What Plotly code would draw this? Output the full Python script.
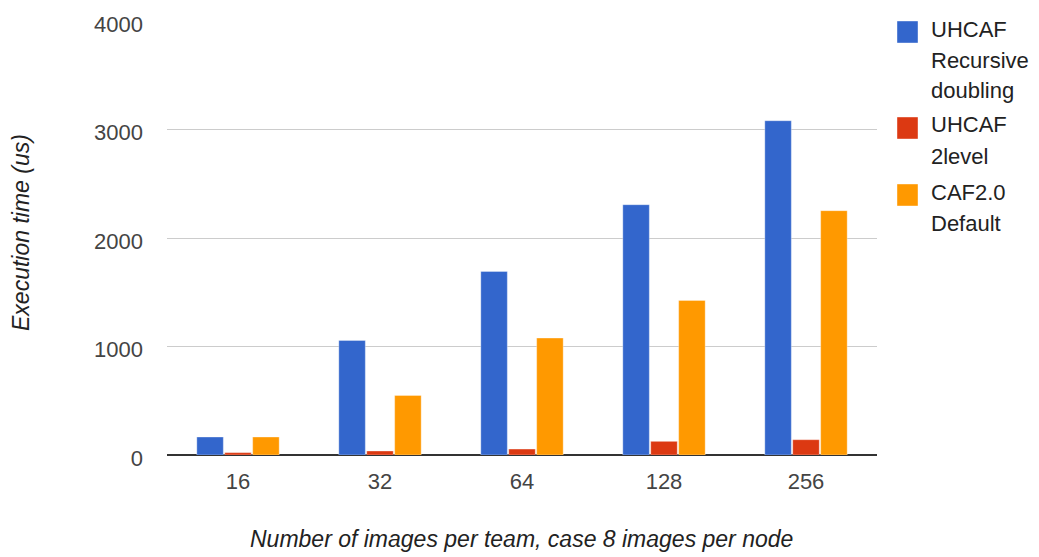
import plotly.graph_objects as go

# Team sizes (images per team) and measured execution times in microseconds
categories = ["16", "32", "64", "128", "256"]
uhcaf_recursive = [166, 1056, 1692, 2307, 3081]
uhcaf_2level = [22, 37, 55, 126, 141]
caf20_default = [166, 549, 1078, 1425, 2252]

series_names = ["UHCAF Recursive doubling", "UHCAF 2level", "CAF2.0 Default"]
legend_lines = [["UHCAF", "Recursive", "doubling"], ["UHCAF", "2level"], ["CAF2.0", "Default"]]
colors = ["#3366cc", "#dc3912", "#ff9900"]
y_ticks = [0, 1000, 2000, 3000, 4000]

W, H = 1039, 557
L, R, T, B = 167, 162, 21, 102
PW, PH = W - L - R, H - T - B

FONT = "Liberation Sans, Arial, sans-serif"


def px_x(px):
    return (px - L) / PW


def px_y(py):
    return (H - B - py) / PH


fig = go.Figure()
for name, vals, col in zip(series_names, [uhcaf_recursive, uhcaf_2level, caf20_default], colors):
    fig.add_trace(go.Bar(
        x=categories, y=vals, name=name,
        marker=dict(color=col, line=dict(color="rgba(255,255,255,0.35)", width=1)),
        showlegend=False,
    ))

# Custom legend: coloured squares with wrapped labels
shapes = []
annotations = []
group_tops = [21, 117, 184]
line_step = 31
for top, lines, col in zip(group_tops, legend_lines, colors):
    shapes.append(dict(
        type="rect", xref="paper", yref="paper",
        x0=px_x(897), x1=px_x(918), y0=px_y(top + 22), y1=px_y(top),
        fillcolor=col, line=dict(color="rgba(255,255,255,0.4)", width=1),
    ))
    for i, txt in enumerate(lines):
        annotations.append(dict(
            text=txt, xref="paper", yref="paper",
            x=px_x(929), y=px_y(top + 8 + i * line_step),
            xanchor="left", yanchor="middle", showarrow=False,
            font=dict(family=FONT, size=22, color="#222222"),
        ))

# Axis titles
annotations.append(dict(
    text="<i>Execution time (us)</i>", xref="paper", yref="paper",
    x=px_x(21), y=px_y(233), xanchor="center", yanchor="middle",
    textangle=-90, showarrow=False,
    font=dict(family=FONT, size=23, color="#222222"),
))
annotations.append(dict(
    text="<i>Number of images per team, case 8 images per node</i>",
    xref="paper", yref="paper",
    x=px_x(521), y=px_y(539), xanchor="center", yanchor="middle",
    showarrow=False,
    font=dict(family=FONT, size=23, color="#222222"),
))

fig.update_layout(
    width=W, height=H,
    margin=dict(l=L, r=R, t=T, b=B, pad=0),
    paper_bgcolor="white", plot_bgcolor="white",
    barmode="group", bargap=0.41, bargroupgap=0.05,
    shapes=shapes, annotations=annotations,
    font=dict(family=FONT, size=22, color="#444444"),
)
fig.update_xaxes(
    showgrid=False, showline=False, ticks="",
    tickfont=dict(family=FONT, size=22, color="#444444"),
    ticklabelstandoff=11,
)
fig.update_yaxes(
    range=[0, 4000], tickvals=y_ticks, ticktext=[str(v) for v in y_ticks],
    showgrid=True, gridcolor="#cccccc", gridwidth=1,
    zeroline=True, zerolinecolor="#333333", zerolinewidth=1.5,
    showline=False, ticks="",
    tickfont=dict(family=FONT, size=22, color="#444444"),
    ticklabelstandoff=23, ticklabelshift=3,
)

fig.write_html("out.html")
